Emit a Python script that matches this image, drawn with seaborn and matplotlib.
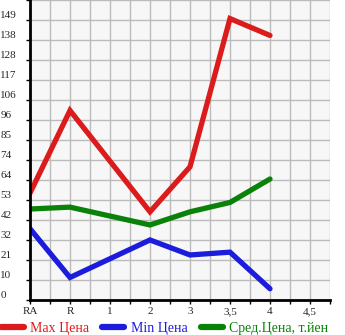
import matplotlib
matplotlib.use("Agg")
import matplotlib.pyplot as plt
from matplotlib.lines import Line2D
from matplotlib.ticker import FixedLocator, MultipleLocator
import seaborn as sns
import pandas as pd

# ---- data ----
x_labels = ["RA", "R", "1", "2", "3", "3,5", "4", "4,5"]
data_cats = ["RA", "R", "2", "3", "3,5", "4"]
max_price = [57, 101, 47, 71, 150, 141]
min_price = [38, 12, 32, 24, 25.5, 6]
avg_price = [48.5, 49.5, 40, 47, 52, 64.5]
y_labels = ["0", "10", "21", "32", "42", "53", "64", "74", "85", "96",
            "106", "117", "128", "138", "149"]
series_names = ["Max Цена", "Min Цена", "Сред.Цена, т.йен"]
colors = ["#dc1c1c", "#1c1cdc", "#0a820a"]
y_step = 10.66

sns.set_theme(style="white")
plt.rcParams["font.family"] = ["Liberation Serif", "DejaVu Serif"]

rows = []
for name, vals in zip(series_names, [max_price, min_price, avg_price]):
    for c, v in zip(data_cats, vals):
        rows.append({"series": name, "x": x_labels.index(c), "value": v})
df = pd.DataFrame(rows)

fig = plt.figure(figsize=(3.45, 3.35), dpi=100)
ax = fig.add_axes([30 / 345, 35 / 335, 300 / 345, 300 / 335])
ax.set_facecolor("#f7f7f7")

sns.lineplot(data=df, x="x", y="value", hue="series", hue_order=series_names,
             palette=colors, linewidth=3.8, legend=False, ax=ax,
             solid_capstyle="round", solid_joinstyle="miter", sort=False)

ax.set_xlim(0, 7.5)
ax.set_ylim(0, 15 * y_step)
ax.xaxis.set_major_locator(FixedLocator(range(len(x_labels))))
ax.set_xticklabels(x_labels)
ax.xaxis.set_minor_locator(MultipleLocator(0.5))
ax.yaxis.set_major_locator(FixedLocator([i * y_step for i in range(len(y_labels))]))
ax.set_yticklabels(y_labels)
ax.yaxis.set_minor_locator(FixedLocator([i * y_step for i in range(16)]))

ax.grid(True, which="both", color="#bbbbbb", linewidth=1.0)
ax.set_axisbelow(True)
ax.set_xlabel("")
ax.set_ylabel("")

for s in ["top", "right"]:
    ax.spines[s].set_visible(False)
for s in ["left", "bottom"]:
    ax.spines[s].set_color("black")
    ax.spines[s].set_linewidth(2)

ax.tick_params(axis="x", which="both", direction="out", length=3, width=1,
               color="black", labelsize=8, pad=2, bottom=True)
ax.tick_params(axis="y", which="both", direction="out", length=3, width=1,
               color="black", labelsize=8, pad=18.3, left=True)
for lab in ax.get_yticklabels():
    lab.set_horizontalalignment("left")
    lab.set_verticalalignment("bottom")

handles = [Line2D([0], [0], color=c, linewidth=4.5, solid_capstyle="round")
           for c in colors]
leg = fig.legend(handles, series_names, loc="lower left",
                 bbox_to_anchor=(-0.02, -0.025), ncol=3, frameon=False,
                 fontsize=10, handlelength=1.6, handletextpad=0.45,
                 columnspacing=0.95, borderaxespad=0.2)
for t, c in zip(leg.get_texts(), colors):
    t.set_color(c)

fig.savefig("out.png", dpi=100)
